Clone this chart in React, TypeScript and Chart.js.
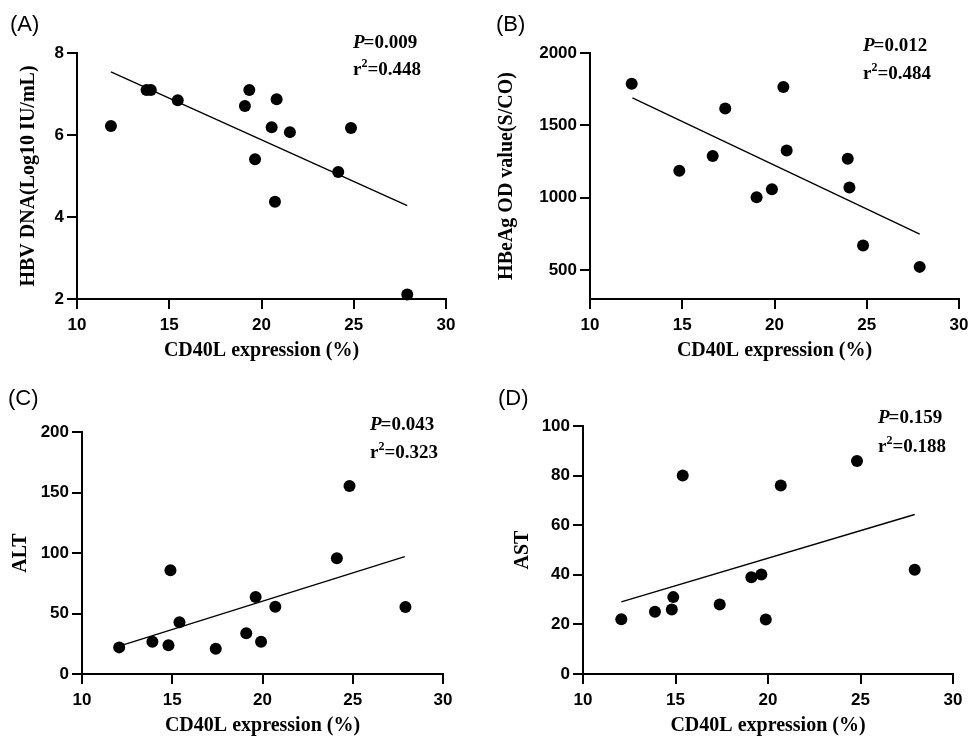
import React, { useEffect, useRef } from "react";
import { Chart, registerables } from "chart.js";
Chart.register(...registerables);

const SANS = "'Liberation Sans', Arial, sans-serif";
const SERIF = "'Liberation Serif', 'Times New Roman', serif";

const xTicks = [10, 15, 20, 25, 30];
const xTitle = "CD40L expression (%)";

// Panel A
const aX = [11.84, 13.77, 14.0, 15.46, 19.1, 19.34, 20.82, 20.55, 21.54, 19.65, 20.73, 24.16, 24.85, 27.9];
const aY = [6.22, 7.1, 7.1, 6.85, 6.71, 7.1, 6.87, 6.19, 6.07, 5.41, 4.37, 5.1, 6.17, 2.11];
const aFitX = [11.84, 27.9];
const aFitY = [7.54, 4.28];
const aYTicks = [2, 4, 6, 8];

// Panel B
const bX = [12.26, 14.84, 16.65, 17.33, 19.03, 19.86, 20.48, 20.66, 23.97, 24.06, 24.8, 27.87];
const bY = [1788, 1187, 1289, 1617, 1003, 1058, 1765, 1326, 1270, 1070, 670, 522];
const bFitX = [12.3, 27.87];
const bFitY = [1690, 749];
const bYTicks = [500, 1000, 1500, 2000];

// Panel C
const cX = [12.06, 13.9, 14.79, 14.9, 15.4, 17.41, 19.1, 19.62, 19.92, 20.71, 24.12, 24.82, 27.92];
const cY = [22, 26.7, 23.7, 85.7, 42.7, 20.9, 33.6, 63.6, 26.7, 55.6, 95.6, 155.4, 55.4];
const cFitX = [12.06, 27.88];
const cFitY = [23.1, 97];
const cYTicks = [0, 50, 100, 150, 200];

// Panel D
const dX = [12.07, 13.89, 14.8, 14.88, 15.39, 17.39, 19.1, 19.64, 19.88, 20.69, 24.81, 27.93];
const dY = [22.1, 25.1, 26, 31, 80, 28, 39, 40.1, 22, 76, 85.9, 42];
const dFitX = [12.07, 27.93];
const dFitY = [29.1, 64.3];
const dYTicks = [0, 20, 40, 60, 80, 100];

const zip = (xs: number[], ys: number[]) => xs.map((x, i) => ({ x, y: ys[i] }));

const TICK_LEN = 10;
const TICK_COLOR = "#000";

const panelText = {
  id: "panelText",
  afterDraw(chart: any, _args: any, o: any) {
    const ctx = chart.ctx;
    const ca = chart.chartArea;
    ctx.save();
    ctx.strokeStyle = TICK_COLOR;
    ctx.lineWidth = 2;
    const xs = chart.scales.x;
    const ys = chart.scales.y;
    ctx.beginPath();
    xs.ticks.forEach((t: any) => {
      const px = Math.round(xs.getPixelForValue(t.value));
      ctx.moveTo(px, ca.bottom);
      ctx.lineTo(px, ca.bottom + TICK_LEN);
    });
    ys.ticks.forEach((t: any) => {
      const py = Math.round(ys.getPixelForValue(t.value));
      ctx.moveTo(ca.left, py);
      ctx.lineTo(ca.left - TICK_LEN, py);
    });
    ctx.stroke();

    ctx.fillStyle = "#000";
    ctx.textBaseline = "alphabetic";
    ctx.textAlign = "left";
    ctx.font = `22px ${SANS}`;
    ctx.fillText(o.label, o.labelX, o.labelY);
    const fs = 19;
    let x = ca.right + o.annDX;
    let y = ca.top + o.pDY;
    ctx.font = `italic bold ${fs}px ${SERIF}`;
    ctx.fillText("P", x, y);
    x += ctx.measureText("P").width - 1;
    ctx.font = `bold ${fs}px ${SERIF}`;
    ctx.fillText("=" + o.p, x, y);
    x = ca.right + o.annDX;
    y = ca.top + o.rDY;
    ctx.fillText("r", x, y);
    x += ctx.measureText("r").width;
    ctx.font = `bold 12px ${SERIF}`;
    ctx.fillText("2", x, y - 8);
    x += ctx.measureText("2").width;
    ctx.font = `bold ${fs}px ${SERIF}`;
    ctx.fillText("=" + o.r2, x, y);
    ctx.restore();
  },
};

type Cfg = {
  left: number; top: number; width: number; height: number;
  xs: number[]; ys: number[]; fitX: number[]; fitY: number[];
  yTicks: number[]; yMin: number; yMax: number; yTitle: string;
  yW: number; xH: number; padTop: number; padRight: number; padBottom: number;
  yTitlePad: number;
  label: string; labelX: number; labelY: number;
  p: string; r2: string; annDX: number; pDY: number; rDY: number;
};

function Panel({ cfg }: { cfg: Cfg }) {
  const ref = useRef<HTMLCanvasElement>(null);
  useEffect(() => {
    const tickFont = { family: SANS, size: 17, weight: "bold" as const };
    const titleFont = { family: SERIF, size: 20, weight: "bold" as const, lineHeight: 1 };
    const xGrid = { drawOnChartArea: false, drawTicks: true, tickLength: 16, tickColor: "rgba(0,0,0,0)", color: "#000", lineWidth: 2 };
    const yGrid = { drawOnChartArea: false, drawTicks: true, tickLength: TICK_LEN, tickColor: "rgba(0,0,0,0)", color: "#000", lineWidth: 2 };
    const border = { display: true, color: "#000", width: 2 };
    const chart = new Chart(ref.current!, {
      type: "scatter",
      data: {
        datasets: [
          {
            data: zip(cfg.fitX, cfg.fitY),
            showLine: true,
            borderColor: "#000",
            borderWidth: 1.4,
            pointRadius: 0,
            pointHoverRadius: 0,
            clip: false,
          } as any,
          {
            data: zip(cfg.xs, cfg.ys),
            backgroundColor: "#000",
            borderColor: "#000",
            pointRadius: 6,
            pointHoverRadius: 6,
            borderWidth: 0,
            clip: false,
          } as any,
        ],
      },
      options: {
        responsive: false,
        animation: false,
        events: [],
        layout: { padding: { left: 0, top: cfg.padTop, right: cfg.padRight, bottom: cfg.padBottom } },
        plugins: {
          legend: { display: false },
          tooltip: { enabled: false },
          panelText: {
            label: cfg.label, labelX: cfg.labelX, labelY: cfg.labelY,
            p: cfg.p, r2: cfg.r2, annDX: cfg.annDX, pDY: cfg.pDY, rDY: cfg.rDY,
          },
        } as any,
        scales: {
          x: {
            type: "linear",
            min: 10,
            max: 30,
            afterBuildTicks: (s: any) => { s.ticks = xTicks.map((v) => ({ value: v })); },
            afterFit: (s: any) => { s.height = cfg.xH; },
            grid: xGrid,
            border,
            ticks: { font: tickFont, color: "#000", padding: 0, maxRotation: 0, callback: (v: any) => String(v) },
            title: { display: true, text: xTitle, font: titleFont, color: "#000", padding: { top: 0, bottom: 0 } },
          },
          y: {
            type: "linear",
            min: cfg.yMin,
            max: cfg.yMax,
            afterBuildTicks: (s: any) => { s.ticks = cfg.yTicks.map((v) => ({ value: v })); },
            afterFit: (s: any) => { s.width = cfg.yW; },
            grid: yGrid,
            border,
            ticks: { font: tickFont, color: "#000", padding: 3, callback: (v: any) => String(v) },
            title: { display: true, text: cfg.yTitle, font: titleFont, color: "#000", padding: { top: cfg.yTitlePad, bottom: 0 } },
          },
        },
      } as any,
      plugins: [panelText],
    });
    return () => chart.destroy();
  }, []);
  return (
    <div style={{ position: "absolute", left: cfg.left, top: cfg.top, width: cfg.width, height: cfg.height }}>
      <canvas ref={ref} width={cfg.width} height={cfg.height} style={{ width: cfg.width, height: cfg.height, display: "block" }} />
    </div>
  );
}

const panels: Cfg[] = [
  {
    left: 0, top: 0, width: 484, height: 368,
    xs: aX, ys: aY, fitX: aFitX, fitY: aFitY, yTicks: aYTicks, yMin: 2, yMax: 8,
    yTitle: "HBV DNA(Log10 IU/mL)",
    yW: 77, xH: 62, padTop: 53, padRight: 38, padBottom: 7, yTitlePad: 19,
    label: "(A)", labelX: 10, labelY: 31,
    p: "0.009", r2: "0.448", annDX: -93, pDY: -5, rDY: 22,
  },
  {
    left: 484, top: 0, width: 485, height: 368,
    xs: bX, ys: bY, fitX: bFitX, fitY: bFitY, yTicks: bYTicks, yMin: 300, yMax: 2000,
    yTitle: "HBeAg OD value(S/CO)",
    yW: 106, xH: 62, padTop: 53, padRight: 10, padBottom: 7, yTitlePad: 13,
    label: "(B)", labelX: 12, labelY: 31,
    p: "0.012", r2: "0.484", annDX: -96, pDY: -2, rDY: 26,
  },
  {
    left: 0, top: 368, width: 484, height: 369,
    xs: cX, ys: cY, fitX: cFitX, fitY: cFitY, yTicks: cYTicks, yMin: 0, yMax: 200,
    yTitle: "ALT",
    yW: 82, xH: 62, padTop: 64, padRight: 41, padBottom: 1, yTitlePad: 11,
    label: "(C)", labelX: 8, labelY: 37,
    p: "0.043", r2: "0.323", annDX: -73, pDY: -2, rDY: 26,
  },
  {
    left: 484, top: 368, width: 485, height: 369,
    xs: dX, ys: dY, fitX: dFitX, fitY: dFitY, yTicks: dYTicks, yMin: 0, yMax: 100,
    yTitle: "AST",
    yW: 99, xH: 62, padTop: 58, padRight: 16, padBottom: 1, yTitlePad: 29,
    label: "(D)", labelX: 14, labelY: 37,
    p: "0.159", r2: "0.188", annDX: -75, pDY: -3, rDY: 26,
  },
];

export default function App() {
  return (
    <div style={{ position: "absolute", left: 0, top: 0, width: 969, height: 737, background: "#fff", overflow: "hidden" }}>
      {panels.map((c, i) => (
        <Panel key={i} cfg={c} />
      ))}
    </div>
  );
}
